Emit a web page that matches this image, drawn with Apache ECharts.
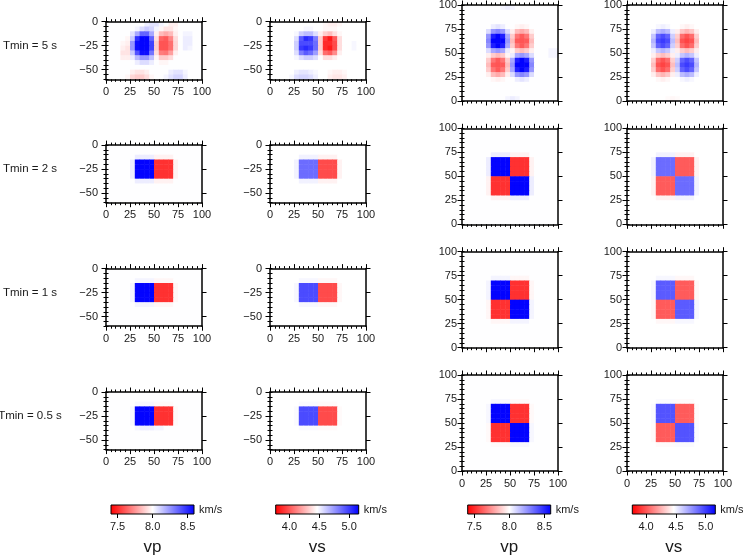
<!DOCTYPE html>
<html><head><meta charset="utf-8">
<script src="https://cdn.jsdelivr.net/npm/echarts@6/dist/echarts.min.js"></script>
<style>html,body{margin:0;padding:0;background:#fff}#c{width:743px;height:557px}</style>
</head><body><div id="c"></div><script>
// ---------------- DATA ----------------
const periods = ['Tmin = 5 s', 'Tmin = 2 s', 'Tmin = 1 s', 'Tmin = 0.5 s'];
const xTicks = [0, 25, 50, 75, 100];
const zTicks = [-50, -25, 0];
const yTicks = [0, 25, 50, 75, 100];
const vpTicks = [7.5, 8.0, 8.5];
const vsTicks = [4.0, 4.5, 5.0];
const vpRef = 8.0, vsRef = 4.465;          // background velocities (km/s)
const vpBar = [7.406, 8.59], vsBar = [3.77, 5.16]; // colour scale limits (km/s)
const cellSize = 5;
const xCells = [2.5,7.5,12.5,17.5,22.5,27.5,32.5,37.5,42.5,47.5,52.5,57.5,62.5,67.5,72.5,77.5,82.5,87.5,92.5,97.5];
const zCells = [-2.5,-7.5,-12.5,-17.5,-22.5,-27.5,-32.5,-37.5,-42.5,-47.5,-52.5,-57.5];
const yCells = [97.5,92.5,87.5,82.5,77.5,72.5,67.5,62.5,57.5,52.5,47.5,42.5,37.5,32.5,27.5,22.5,17.5,12.5,7.5,2.5];
const Z = [0,0,0,0,0,0,0,0,0,0,0,0,0,0,0,0,0,0,0,0];
// anomalies in percent; cross-sections: rows = depth cells, columns = x cells
const vpSec5 = [
 [0,0,0,0,0,0,0,0,0.5,0.8,0.8,0.3,0,-0.5,-0.5,0,0,0,0,0],
 [0,0,0,0,0,0,0.3,1,1.5,1.2,0.3,-0.3,-0.8,-0.8,-0.3,0,0,0,0,0],
 [0,0,0,0,0,0.8,2.5,4.5,4.5,2.5,-0.5,-2,-2.5,-2,-0.5,0,0.3,0.3,0,0],
 [0,0,0,0,-0.3,1.5,6,7.3,7.3,4.5,-1,-4.5,-4.8,-3.5,-1,0,0.5,0.5,0,0],
 [0,0,0,-0.3,-0.5,3,7,7.3,7.3,5.5,-1.5,-5,-5,-4.2,-1.2,0,0.5,0.5,0,0],
 [0,0,0,-0.5,-0.8,3,7,7.3,7.3,5.5,-1.5,-5,-5,-4.2,-1.2,0,0.5,0.3,0,0],
 [0,0,0,-0.8,-0.8,1.5,5,7,7,4,-1,-3.8,-4,-2.8,-0.5,0,0,0,0,0],
 [0,0,0,-0.5,-0.5,0.5,2,3,3,1.8,-0.3,-1.5,-1.5,-1,0,0,0,0,0,0],
 [0,0,0,0,0,0,0.5,1,1,0.5,0,-0.3,-0.3,0,0,0,0,0,0,0],
 Z,
 [0,0,0,0,0,-0.5,-0.8,-0.8,-0.5,0,0,0,0,0.5,0.8,0.8,0.3,0,0,0],
 [0,0,0,0,-0.3,-1.2,-1.5,-1.5,-1,-0.3,0,0,0.3,0.8,1.2,1.2,0.5,0,0,0]
];
const vsSec5 = [
 [0,0,0,0,0,0,0,0,0,0,0,-0.5,-1,-1,-0.5,0,0,0,0,0],
 [0,0,0,0,0,0,0,0.5,0.5,0,0,-0.5,-0.5,-0.5,0,0,0,0,0,0],
 [0,0,0,0,0,0.5,3,4,4,2,-1,-3,-4,-2,-0.5,0,0,0,0,0],
 [0,0,0,0,0,2,10,13,12,8,-3,-12,-14,-10,-2,0,0,0,0,0],
 [0,0,0,0,0,3,11,11,11,9,-3,-13,-13,-11,-2,0,0,0.5,0,0],
 [0,0,0,0,0,3,12,13,12,9,-3,-13,-14,-11,-2,0,0,0.5,0,0],
 [0,0,0,0,0,2,8,10,9,6,-2,-9,-10,-7,-1,0,0,0,0,0],
 [0,0,0,0,0,0.5,2,3,3,2,0,-2,-2,-1,0,0,0,0,0,0],
 Z, Z,
 [0,0,0,0,0,1,1.5,1.5,1,0.5,0,0,-0.5,-1,-1,-0.5,0,0,0,0],
 [0,0,0,0,0.5,2,2.5,2.5,2,1,0,0,-1,-1.5,-1.5,-1,0,0,0,0]
];
const vpSec2 = [
 Z, Z,
 [0,0,0,0,0,0,0.5,0.5,0.5,0.5,-0.4,-0.4,-0.4,-0.4,0,0,0,0,0,0],
 [0,0,0,0,0,0.5,7.3,7.3,7.3,7.3,-6,-6,-6,-6,-0.4,0,0,0,0,0],
 [0,0,0,0,0,0.5,7.3,7.3,7.3,7.3,-6,-6,-6,-6,-0.4,0,0,0,0,0],
 [0,0,0,0,0,0.5,7.3,7.3,7.3,7.3,-6,-6,-6,-6,-0.4,0,0,0,0,0],
 [0,0,0,0,0,0.5,7.3,7.3,7.3,7.3,-6,-6,-6,-6,-0.4,0,0,0,0,0],
 [0,0,0,0,0,0,0.5,0.5,0.5,0.5,-0.4,-0.4,-0.4,-0.4,0,0,0,0,0,0],
 Z, Z, Z, Z
];
const vsSec2 = [
 Z, Z,
 [0,0,0,0,0,0,0.8,0.8,0.8,0.8,-0.8,-0.8,-0.8,-0.8,0,0,0,0,0,0],
 [0,0,0,0,0,0.8,9,9,9,9,-11,-11,-11,-11,-0.8,0,0,0,0,0],
 [0,0,0,0,0,0.8,9,9,9,9,-11,-11,-11,-11,-0.8,0,0,0,0,0],
 [0,0,0,0,0,0.8,9,9,9,9,-11,-11,-11,-11,-0.8,0,0,0,0,0],
 [0,0,0,0,0,0.8,9,9,9,9,-11,-11,-11,-11,-0.8,0,0,0,0,0],
 [0,0,0,0,0,0,0.8,0.8,0.8,0.8,-0.8,-0.8,-0.8,-0.8,0,0,0,0,0,0],
 Z, Z, Z, Z
];
const vpSec1 = [
 Z, Z,
 [0,0,0,0,0,0,0.3,0.3,0.3,0.3,-0.3,-0.3,-0.3,-0.3,0,0,0,0,0,0],
 [0,0,0,0,0,0.3,7.3,7.3,7.3,7.3,-6,-6,-6,-6,-0.3,0,0,0,0,0],
 [0,0,0,0,0,0.3,7.3,7.3,7.3,7.3,-6,-6,-6,-6,-0.3,0,0,0,0,0],
 [0,0,0,0,0,0.3,7.3,7.3,7.3,7.3,-6,-6,-6,-6,-0.3,0,0,0,0,0],
 [0,0,0,0,0,0.3,7.3,7.3,7.3,7.3,-6,-6,-6,-6,-0.3,0,0,0,0,0],
 [0,0,0,0,0,0,0.3,0.3,0.3,0.3,-0.3,-0.3,-0.3,-0.3,0,0,0,0,0,0],
 Z, Z, Z, Z
];
const vsSec1 = [
 Z, Z,
 [0,0,0,0,0,0,0.5,0.5,0.5,0.5,-0.5,-0.5,-0.5,-0.5,0,0,0,0,0,0],
 [0,0,0,0,0,0.5,11,11,11,11,-11,-11,-11,-11,-0.5,0,0,0,0,0],
 [0,0,0,0,0,0.5,11,11,11,11,-11,-11,-11,-11,-0.5,0,0,0,0,0],
 [0,0,0,0,0,0.5,11,11,11,11,-11,-11,-11,-11,-0.5,0,0,0,0,0],
 [0,0,0,0,0,0.5,11,11,11,11,-11,-11,-11,-11,-0.5,0,0,0,0,0],
 [0,0,0,0,0,0,0.5,0.5,0.5,0.5,-0.5,-0.5,-0.5,-0.5,0,0,0,0,0,0],
 Z, Z, Z, Z
];
const vpSec05 = [
 Z, Z,
 [0,0,0,0,0,0,0.2,0.2,0.2,0.2,-0.2,-0.2,-0.2,-0.2,0,0,0,0,0,0],
 [0,0,0,0,0,0.2,7.3,7.3,7.3,7.3,-6,-6,-6,-6,-0.2,0,0,0,0,0],
 [0,0,0,0,0,0.2,7.3,7.3,7.3,7.3,-6,-6,-6,-6,-0.2,0,0,0,0,0],
 [0,0,0,0,0,0.2,7.3,7.3,7.3,7.3,-6,-6,-6,-6,-0.2,0,0,0,0,0],
 [0,0,0,0,0,0.2,7.3,7.3,7.3,7.3,-6,-6,-6,-6,-0.2,0,0,0,0,0],
 [0,0,0,0,0,0,0.3,0.5,0.5,0.5,0.3,0.3,0,0,0,0,0,0,0,0],
 Z, Z, Z, Z
];
const vsSec05 = [
 Z, Z,
 [0,0,0,0,0,0,0.3,0.3,0.3,0.3,-0.3,-0.3,-0.3,-0.3,0,0,0,0,0,0],
 [0,0,0,0,0,0.3,11,11,11,11,-11,-11,-11,-11,-0.3,0,0,0,0,0],
 [0,0,0,0,0,0.3,11,11,11,11,-11,-11,-11,-11,-0.3,0,0,0,0,0],
 [0,0,0,0,0,0.3,11,11,11,11,-11,-11,-11,-11,-0.3,0,0,0,0,0],
 [0,0,0,0,0,0.3,11,11,11,11,-11,-11,-11,-11,-0.3,0,0,0,0,0],
 [0,0,0,0,0,0,0.3,0.3,0.3,0.3,-0.3,-0.3,-0.3,-0.3,0,0,0,0,0,0],
 Z, Z, Z, Z
];
// map views: rows = y cells from top (y=100) down, columns = x cells
const vpMap5 = [
 [0,0,0,0,0,0,0,0,0.3,0.5,0.3,0,0,0,0,0,0,0,0,0],
 Z, Z, Z,
 [0,0,0,0,0,0,0.5,0.8,0.5,0,0,-0.3,-0.5,-0.3,0,0,0,0,0,0],
 [0,0,0,0,0,1,3,3.5,3,1,-0.5,-2,-2.5,-2,-0.5,0,0,0,0,0],
 [0,0,0,0,0,3,6.5,7.3,6.5,2.5,-1.5,-4,-4.8,-4,-1.5,0,0,0,0,0],
 [0,0,0,0,0,3.5,7.3,7.3,7.3,3,-2,-4.8,-5,-4.8,-2,0,0,0,0,0],
 [0,0,0,0,0,3,6.5,7.3,6.5,2.5,-1.5,-4,-4.8,-4,-1.5,0,0,0,0,0],
 [0,0,0,0,0,1,2.5,3,2.5,0.5,-0.3,-1.5,-2,-1.5,-0.5,0,0,0,0.3,0.3],
 [0,0,0,0,0,-0.5,-1.5,-2,-1.5,-0.3,0.5,2.5,3,2.5,1,0,0,0,0.3,0.3],
 [0,0,0,0,0,-1.5,-4,-4.8,-4,-1.5,2.5,6.5,7.3,6.5,3,0,0,0,0,0],
 [0,0,0,0,0,-2,-4.8,-5,-4.8,-2,3,7.3,7.3,7.3,3.5,0,0,0,0,0],
 [0,0,0,0,0,-1.5,-4,-4.8,-4,-1.5,2.5,6.5,7.3,6.5,3,0,0,0,0,0],
 [0,0,0,0,0,-0.5,-2,-2.5,-2,-0.5,1,3,3.5,3,1,0,0,0,0,0],
 [0,0,0,0,0,0,-0.3,-0.5,-0.3,0,0,0.5,0.8,0.5,0,0,0,0,0,0],
 Z, Z, Z,
 [0,0,0,0,0,0,0,0,0,0.3,0.5,0.3,0,0,0,0,0,0,0,0]
];
const vsMap5 = [
 Z, Z, Z, Z,
 [0,0,0,0,0,0,0.5,1,0.5,0,0,-0.5,-1,-0.5,0,0,0,0,0,0],
 [0,0,0,0,0,1,4,5,4,1,-1,-3.5,-4.5,-3.5,-1,0,0,0,0,0],
 [0,0,0,0,0,3.5,9.5,11,9.5,3,-3,-9,-10.5,-9,-3,0,0,0,0,0],
 [0,0,0,0,0,4.5,11,12,11,4,-4,-10.5,-11.5,-10.5,-4,0,0,0,0,0],
 [0,0,0,0,0,3.5,9.5,11,9.5,3,-3,-9,-10.5,-9,-3,0,0,0,0,0],
 [0,0,0,0,0,1,3.5,4.5,3.5,1,-1,-3,-4,-3,-1,0,0,0,0,0],
 [0,0,0,0,0,-1,-3,-4,-3,-1,1,3.5,4.5,3.5,1,0,0,0,0,0],
 [0,0,0,0,0,-3,-9,-10.5,-9,-3,3,9.5,11,9.5,3.5,0,0,0,0,0],
 [0,0,0,0,0,-4,-10.5,-11.5,-10.5,-4,4,11,12,11,4.5,0,0,0,0,0],
 [0,0,0,0,0,-3,-9,-10.5,-9,-3,3,9.5,11,9.5,3.5,0,0,0,0,0],
 [0,0,0,0,0,-1,-3.5,-4.5,-3.5,-1,1,4,5,4,1,0,0,0,0,0],
 [0,0,0,0,0,0,-0.5,-1,-0.5,0,0,0.5,1,0.5,0,0,0,0,0,0],
 Z, Z, Z,
 [0,0,0,0,0,0,0,0,-0.3,-0.5,-0.3,0,0,0,0,0,0,0,0,0]
];
const vpMap2 = [
 Z, Z, Z, Z, Z,
 [0,0,0,0,0,0,0.5,0.5,0.5,0.5,-0.4,-0.4,-0.4,-0.4,0,0,0,0,0,0],
 [0,0,0,0,0,0.5,7.3,7.3,7.3,7.3,-6,-6,-6,-6,-0.4,0,0,0,0,0],
 [0,0,0,0,0,0.5,7.3,7.3,7.3,7.3,-6,-6,-6,-6,-0.4,0,0,0,0,0],
 [0,0,0,0,0,0.5,7.3,7.3,7.3,7.3,-6,-6,-6,-6,-0.4,0,0,0,0,0],
 [0,0,0,0,0,0.5,7.3,7.3,7.3,7.3,-6,-6,-6,-6,-0.4,0,0,0,0,0],
 [0,0,0,0,0,-0.4,-6,-6,-6,-6,7.3,7.3,7.3,7.3,0.5,0,0,0,0,0],
 [0,0,0,0,0,-0.4,-6,-6,-6,-6,7.3,7.3,7.3,7.3,0.5,0,0,0,0,0],
 [0,0,0,0,0,-0.4,-6,-6,-6,-6,7.3,7.3,7.3,7.3,0.5,0,0,0,0,0],
 [0,0,0,0,0,-0.4,-6,-6,-6,-6,7.3,7.3,7.3,7.3,0.5,0,0,0,0,0],
 [0,0,0,0,0,0,-0.4,-0.4,-0.4,-0.4,0.5,0.5,0.5,0.5,0,0,0,0,0,0],
 Z, Z, Z, Z, Z
];
const vsMap2 = [
 Z, Z, Z, Z, Z,
 [0,0,0,0,0,0,0.8,0.8,0.8,0.8,-0.8,-0.8,-0.8,-0.8,0,0,0,0,0,0],
 [0,0,0,0,0,0.8,9,9,9,9,-10,-10,-10,-10,-0.8,0,0,0,0,0],
 [0,0,0,0,0,0.8,9,9,9,9,-10,-10,-10,-10,-0.8,0,0,0,0,0],
 [0,0,0,0,0,0.8,9,9,9,9,-10,-10,-10,-10,-0.8,0,0,0,0,0],
 [0,0,0,0,0,0.8,9,9,9,9,-10,-10,-10,-10,-0.8,0,0,0,0,0],
 [0,0,0,0,0,-0.8,-10,-10,-10,-10,9,9,9,9,0.8,0,0,0,0,0],
 [0,0,0,0,0,-0.8,-10,-10,-10,-10,9,9,9,9,0.8,0,0,0,0,0],
 [0,0,0,0,0,-0.8,-10,-10,-10,-10,9,9,9,9,0.8,0,0,0,0,0],
 [0,0,0,0,0,-0.8,-10,-10,-10,-10,9,9,9,9,0.8,0,0,0,0,0],
 [0,0,0,0,0,0,-0.8,-0.8,-0.8,-0.8,0.8,0.8,0.8,0.8,0,0,0,0,0,0],
 Z, Z, Z, Z, Z
];
const vpMap1 = [
 Z, Z, Z, Z, Z,
 [0,0,0,0,0,0,0.3,0.3,0.3,0.3,-0.3,-0.3,-0.3,-0.3,0,0,0,0,0,0],
 [0,0,0,0,0,0.3,7.3,7.3,7.3,7.3,-6,-6,-6,-6,-0.3,0,0,0,0,0],
 [0,0,0,0,0,0.3,7.3,7.3,7.3,7.3,-6,-6,-6,-6,-0.3,0,0,0,0,0],
 [0,0,0,0,0,0.3,7.3,7.3,7.3,7.3,-6,-6,-6,-6,-0.3,0,0,0,0,0],
 [0,0,0,0,0,0.3,7.3,7.3,7.3,7.3,-6,-6,-6,-6,-0.3,0,0,0,0,0],
 [0,0,0,0,0,-0.3,-6,-6,-6,-6,7.3,7.3,7.3,7.3,0.3,0,0,0,0,0],
 [0,0,0,0,0,-0.3,-6,-6,-6,-6,7.3,7.3,7.3,7.3,0.3,0,0,0,0,0],
 [0,0,0,0,0,-0.3,-6,-6,-6,-6,7.3,7.3,7.3,7.3,0.3,0,0,0,0,0],
 [0,0,0,0,0,-0.3,-6,-6,-6,-6,7.3,7.3,7.3,7.3,0.3,0,0,0,0,0],
 [0,0,0,0,0,0,-0.3,-0.3,-0.3,-0.3,0.3,0.3,0.3,0.3,0,0,0,0,0,0],
 Z, Z, Z, Z, Z
];
const vsMap1 = [
 Z, Z, Z, Z, Z,
 [0,0,0,0,0,0,0.5,0.5,0.5,0.5,-0.5,-0.5,-0.5,-0.5,0,0,0,0,0,0],
 [0,0,0,0,0,0.5,10,10,10,10,-10,-10,-10,-10,-0.5,0,0,0,0,0],
 [0,0,0,0,0,0.5,10,10,10,10,-10,-10,-10,-10,-0.5,0,0,0,0,0],
 [0,0,0,0,0,0.5,10,10,10,10,-10,-10,-10,-10,-0.5,0,0,0,0,0],
 [0,0,0,0,0,0.5,10,10,10,10,-10,-10,-10,-10,-0.5,0,0,0,0,0],
 [0,0,0,0,0,-0.5,-10,-10,-10,-10,10,10,10,10,0.5,0,0,0,0,0],
 [0,0,0,0,0,-0.5,-10,-10,-10,-10,10,10,10,10,0.5,0,0,0,0,0],
 [0,0,0,0,0,-0.5,-10,-10,-10,-10,10,10,10,10,0.5,0,0,0,0,0],
 [0,0,0,0,0,-0.5,-10,-10,-10,-10,10,10,10,10,0.5,0,0,0,0,0],
 [0,0,0,0,0,0,-0.5,-0.5,-0.5,-0.5,0.5,0.5,0.5,0.5,0,0,0,0,0,0],
 Z, Z, Z, Z, Z
];
const vpMap05 = [
 Z, Z, Z, Z, Z,
 [0,0,0,0,0,0,0.2,0.2,0.2,0.2,-0.2,-0.2,-0.2,-0.2,0,0,0,0,0,0],
 [0,0,0,0,0,0.2,7.3,7.3,7.3,7.3,-6,-6,-6,-6,-0.2,0,0,0,0,0],
 [0,0,0,0,0,0.2,7.3,7.3,7.3,7.3,-6,-6,-6,-6,-0.2,0,0,0,0,0],
 [0,0,0,0,0,0.2,7.3,7.3,7.3,7.3,-6,-6,-6,-6,-0.2,0,0,0,0,0],
 [0,0,0,0,0,0.2,7.3,7.3,7.3,7.3,-6,-6,-6,-6,-0.2,0,0,0,0,0],
 [0,0,0,0,0,-0.2,-6,-6,-6,-6,7.3,7.3,7.3,7.3,0.2,0,0,0,0,0],
 [0,0,0,0,0,-0.2,-6,-6,-6,-6,7.3,7.3,7.3,7.3,0.2,0,0,0,0,0],
 [0,0,0,0,0,-0.2,-6,-6,-6,-6,7.3,7.3,7.3,7.3,0.2,0,0,0,0,0],
 [0,0,0,0,0,-0.2,-6,-6,-6,-6,7.3,7.3,7.3,7.3,0.2,0,0,0,0,0],
 [0,0,0,0,0,0,-0.2,-0.2,-0.2,-0.2,0.2,0.2,0.2,0.2,0,0,0,0,0,0],
 Z, Z, Z, Z, Z
];
const vsMap05 = [
 Z, Z, Z, Z, Z,
 [0,0,0,0,0,0,0.3,0.3,0.3,0.3,-0.3,-0.3,-0.3,-0.3,0,0,0,0,0,0],
 [0,0,0,0,0,0.3,10.5,10.5,10.5,10.5,-10,-10,-10,-10,-0.3,0,0,0,0,0],
 [0,0,0,0,0,0.3,10.5,10.5,10.5,10.5,-10,-10,-10,-10,-0.3,0,0,0,0,0],
 [0,0,0,0,0,0.3,10.5,10.5,10.5,10.5,-10,-10,-10,-10,-0.3,0,0,0,0,0],
 [0,0,0,0,0,0.3,10.5,10.5,10.5,10.5,-10,-10,-10,-10,-0.3,0,0,0,0,0],
 [0,0,0,0,0,-0.3,-10,-10,-10,-10,10.5,10.5,10.5,10.5,0.3,0,0,0,0,0],
 [0,0,0,0,0,-0.3,-10,-10,-10,-10,10.5,10.5,10.5,10.5,0.3,0,0,0,0,0],
 [0,0,0,0,0,-0.3,-10,-10,-10,-10,10.5,10.5,10.5,10.5,0.3,0,0,0,0,0],
 [0,0,0,0,0,-0.3,-10,-10,-10,-10,10.5,10.5,10.5,10.5,0.3,0,0,0,0,0],
 [0,0,0,0,0,0,-0.3,-0.3,-0.3,-0.3,0.3,0.3,0.3,0.3,0,0,0,0,0,0],
 Z, Z, Z, Z, Z
];
const rowsData = [
  {label: periods[0], vpSec: vpSec5,  vsSec: vsSec5,  vpMap: vpMap5,  vsMap: vsMap5},
  {label: periods[1], vpSec: vpSec2,  vsSec: vsSec2,  vpMap: vpMap2,  vsMap: vsMap2},
  {label: periods[2], vpSec: vpSec1,  vsSec: vsSec1,  vpMap: vpMap1,  vsMap: vsMap1},
  {label: periods[3], vpSec: vpSec05, vsSec: vsSec05, vpMap: vpMap05, vsMap: vsMap05}
];

// ---------------- LAYOUT ----------------
const colLeft = [106, 270, 462, 627];
const panelW = 96;
const secTop = [21.7, 145.1, 268.6, 392], secH = 57.6;
const mapTop = [5, 128.3, 251.7, 375], mapH = 96;
const barLeft = [111, 275.7, 467.7, 632.3], barW = 83, barTop = 505, barH = 9;
const FF = '"Liberation Sans", Arial, Helvetica, sans-serif';
const font = {color: '#1a1a1a', fontSize: 11, fontFamily: FF};
const lineS = {color: '#000', width: 1.5};
const tickS = {color: '#000', width: 1};
const fmtMinus = v => (v < 0 ? '\u2212' + Math.abs(v) : String(v));

const grids = [], xAxes = [], yAxes = [], series = [], vpIdx = [], vsIdx = [];

function toCells(anom, rowCoords, ref) {
  const out = [];
  anom.forEach((row, j) => row.forEach((dv, i) => out.push([xCells[i], rowCoords[j], ref * (1 + dv / 100)])));
  return out;
}
function renderCell(params, api) {
  const h = cellSize / 2;
  const a = api.coord([api.value(0) - h, api.value(1) + h]);
  const b = api.coord([api.value(0) + h, api.value(1) - h]);
  return {type: 'rect', shape: {x: Math.min(a[0], b[0]), y: Math.min(a[1], b[1]),
    width: Math.abs(b[0] - a[0]) + 0.5, height: Math.abs(b[1] - a[1]) + 0.5},
    style: {fill: api.visual('color')}};
}
function addPanel(left, top, h, yMin, yMax, yMajor, showX, yMargin, data) {
  const g = grids.length;
  grids.push({left: left, top: top, width: panelW, height: h, containLabel: false, outerBoundsMode: 'none'});
  const xi = xAxes.length;
  ['bottom', 'top'].forEach((pos, k) => xAxes.push({
    gridIndex: g, type: 'value', position: pos, min: 0, max: 100, interval: 25, z: 5,
    axisLine: {onZero: false, lineStyle: lineS},
    axisTick: {length: 4.5, lineStyle: tickS},
    minorTick: {show: true, splitNumber: 5, length: 2.5, lineStyle: tickS},
    axisLabel: Object.assign({show: k === 0 && showX, margin: 7, customValues: xTicks}, font),
    splitLine: {show: false}, minorSplitLine: {show: false}
  }));
  const yi = yAxes.length;
  ['left', 'right'].forEach((pos, k) => {
    yAxes.push({gridIndex: g, type: 'value', position: pos, min: yMin, max: yMax, z: 5,
      axisLine: {onZero: false, lineStyle: lineS},
      axisTick: {length: 4.5, lineStyle: tickS, customValues: yMajor},
      axisLabel: Object.assign({show: k === 0, customValues: yMajor, margin: yMargin, formatter: fmtMinus}, font),
      splitLine: {show: false}});
    yAxes.push({gridIndex: g, type: 'value', position: pos, min: yMin, max: yMax, interval: 5, z: 5,
      axisLine: {show: false}, axisTick: {length: 2.5, lineStyle: tickS},
      axisLabel: {show: false}, splitLine: {show: false}});
  });
  series.push({type: 'custom', coordinateSystem: 'cartesian2d', xAxisIndex: xi, yAxisIndex: yi,
    data: data, renderItem: renderCell, silent: true, animation: false, z: 1});
  return series.length - 1;
}
function addBar(left, range, ref, ticks) {
  const g = grids.length;
  const mid = (ref - range[0]) / (range[1] - range[0]);
  grids.push({left: left, top: barTop, width: barW, height: barH, show: true, borderColor: '#000', borderWidth: 1,
    containLabel: false, outerBoundsMode: 'none',
    backgroundColor: {type: 'linear', x: 0, y: 0, x2: 1, y2: 0, colorStops: [
      {offset: 0, color: '#ff0000'}, {offset: mid, color: '#ffffff'}, {offset: 1, color: '#0000ff'}]}});
  xAxes.push({gridIndex: g, type: 'value', position: 'bottom', min: range[0], max: range[1], z: 5,
    axisLine: {show: false},
    axisTick: {customValues: ticks, length: 4, lineStyle: tickS},
    axisLabel: Object.assign({customValues: ticks, formatter: v => v.toFixed(1), margin: 7}, font),
    splitLine: {show: false}});
  yAxes.push({gridIndex: g, type: 'value', show: false, min: 0, max: 1});
}

rowsData.forEach((r, k) => {
  vpIdx.push(addPanel(colLeft[0], secTop[k], secH, -60, 0, zTicks, true, 8, toCells(r.vpSec, zCells, vpRef)));
  vsIdx.push(addPanel(colLeft[1], secTop[k], secH, -60, 0, zTicks, true, 8, toCells(r.vsSec, zCells, vsRef)));
  vpIdx.push(addPanel(colLeft[2], mapTop[k], mapH, 0, 100, yTicks, k === 3, 5, toCells(r.vpMap, yCells, vpRef)));
  vsIdx.push(addPanel(colLeft[3], mapTop[k], mapH, 0, 100, yTicks, k === 3, 5, toCells(r.vsMap, yCells, vsRef)));
});
addBar(barLeft[0], vpBar, vpRef, vpTicks);
addBar(barLeft[1], vsBar, vsRef, vsTicks);
addBar(barLeft[2], vpBar, vpRef, vpTicks);
addBar(barLeft[3], vsBar, vsRef, vsTicks);

const graphics = [];
rowsData.forEach((r, k) => graphics.push({type: 'text', x: 30, y: secTop[k] + 24,
  style: {text: r.label, font: '11.5px ' + FF, fill: '#1a1a1a', textAlign: 'center', align: 'center',
    textVerticalAlign: 'middle', verticalAlign: 'middle'}}));
const barNames = ['vp', 'vs', 'vp', 'vs'];
barLeft.forEach((bl, c) => {
  graphics.push({type: 'text', x: bl + barW + 5, y: barTop + barH / 2,
    style: {text: 'km/s', font: '11px ' + FF, fill: '#1a1a1a', textAlign: 'left', align: 'left',
      textVerticalAlign: 'middle', verticalAlign: 'middle'}});
  graphics.push({type: 'text', x: bl + barW / 2, y: 547,
    style: {text: barNames[c], font: '17px ' + FF, fill: '#1a1a1a', textAlign: 'center', align: 'center',
      textVerticalAlign: 'middle', verticalAlign: 'middle'}});
});

const cmap = ['#ff0000', '#ffffff', '#0000ff'];
const chart = echarts.init(document.getElementById('c'), null, {renderer: 'canvas'});
chart.setOption({
  animation: false,
  backgroundColor: '#ffffff',
  grid: grids, xAxis: xAxes, yAxis: yAxes, series: series,
  visualMap: [
    {type: 'continuous', show: false, seriesIndex: vpIdx, dimension: 2, min: vpBar[0], max: vpBar[1], inRange: {color: cmap}},
    {type: 'continuous', show: false, seriesIndex: vsIdx, dimension: 2, min: vsBar[0], max: vsBar[1], inRange: {color: cmap}}
  ],
  graphic: graphics
});
</script></body></html>
